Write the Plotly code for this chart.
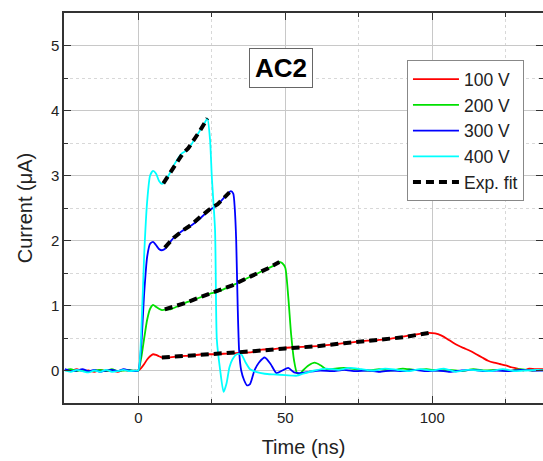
import plotly.graph_objects as go

# ---------------- data ----------------
t_pre = [-25, -23, -21, -19, -17, -15, -13, -11, -9, -7, -5, -3, -1]

# 100 V
t_100 = t_pre + [0, 1, 2, 3, 4, 5, 6, 7, 8,
                 10, 14, 18, 22, 26, 30, 34, 38, 42, 46, 50, 54, 58, 62, 66, 70, 74, 78, 82, 86, 90, 94,
                 97, 99,
                 101, 103, 105, 107, 109, 111, 113, 115, 117, 119, 121, 123, 125, 127, 129, 131, 133, 135,
                 138]
i_100 = [0.01, -0.01, 0.02, -0.01, 0.0, -0.02, 0.01, -0.01, 0.0, -0.02, 0.01, -0.01, 0.0] + \
        [0.0, 0.04, 0.1, 0.17, 0.22, 0.25, 0.24, 0.22, 0.2,
         0.2, 0.22, 0.23, 0.25, 0.25, 0.26, 0.27, 0.28, 0.32, 0.33, 0.35, 0.36, 0.37, 0.38, 0.40, 0.42, 0.44, 0.46, 0.47, 0.49, 0.52, 0.55,
         0.57, 0.58,
         0.57, 0.54, 0.49, 0.43, 0.38, 0.34, 0.30, 0.25, 0.20, 0.15, 0.12, 0.10, 0.08, 0.05, 0.03, 0.0, 0.03, 0.02,
         0.02]

# 200 V
t_200 = t_pre + [0, 1, 2, 3, 4, 5, 6, 7, 8,
                 10, 11, 13, 16, 19, 22, 25, 28, 31, 34, 37, 40, 43, 46, 48, 49,
                 50, 51, 52, 53, 54, 55, 56,
                 58, 60, 62, 64, 67, 70, 74, 78, 82, 86, 90, 94, 98, 102, 106, 110, 114, 118, 122, 126, 130, 134, 138]
i_200 = [0.0, 0.02, -0.01, 0.01, -0.02, 0.0, 0.01, -0.01, 0.02, -0.01, 0.0, 0.01, -0.01] + \
        [0.0, 0.2, 0.5, 0.78, 0.95, 1.01, 0.98, 0.95, 0.93,
         0.94, 0.94, 0.98, 1.04, 1.09, 1.14, 1.19, 1.23, 1.29, 1.35, 1.42, 1.48, 1.55, 1.61, 1.67, 1.65,
         1.58, 1.14, 0.55, 0.15, -0.04, -0.05, 0.0,
         0.08, 0.12, 0.08, 0.02, 0.03, 0.04, 0.02, 0.0, 0.02, 0.0, 0.03, 0.01, 0.02, 0.0, 0.01, -0.01, 0.02, 0.0, 0.01, -0.01, 0.02, 0.0, 0.01]

# 300 V
t_300 = t_pre + [0, 1, 2, 3, 4, 5, 6, 7, 8, 9, 10,
                 12, 15, 18, 20, 22, 24, 26, 28, 30,
                 31.5, 32.3, 32.8, 33.3, 33.8, 34.3, 35,
                 36, 37, 38, 39.5, 41, 43, 45, 47, 49, 51, 53, 55, 58,
                 62, 66, 70, 74, 78, 82, 86, 90, 94, 98, 102, 106, 110, 114, 118, 122, 126, 130, 134, 138]
i_300 = [0.02, -0.01, 0.0, 0.02, -0.01, 0.01, -0.02, 0.0, 0.01, -0.01, 0.02, 0.0, -0.01] + \
        [0.0, 0.4, 1.2, 1.75, 1.95, 1.98, 1.93, 1.87, 1.85, 1.87, 1.93,
         2.04, 2.15, 2.23, 2.3, 2.38, 2.46, 2.52, 2.6, 2.7,
         2.76, 2.72, 2.5, 2.0, 1.0, 0.3, 0.0,
         -0.15, -0.23, -0.21, 0.0, 0.12, 0.2, 0.1, -0.04, 0.0, 0.04, -0.03, -0.04, -0.02,
         0.0, -0.01, 0.01, -0.01, 0.0, -0.02, 0.0, -0.01, 0.01, -0.01, 0.0, -0.02, 0.0, 0.01, -0.01, 0.0, -0.01, 0.01, 0.0, 0.0]

# 400 V
t_400 = t_pre + [0, 1, 2, 3, 4, 5, 6, 7, 8, 9,
                 11, 12.5, 14.8, 16.5, 18.2, 20.4, 22.7, 23.5,
                 24.4, 25, 26.1, 26.7, 27.8, 29, 30, 31, 32, 33.5, 35, 36.3, 38, 40, 43, 46, 50, 54, 56, 60,
                 64, 68, 72, 76, 80, 84, 88, 92, 96, 100, 104, 108, 112, 116, 120, 124, 128, 132, 136, 138]
i_400 = [0.0, -0.02, 0.01, -0.01, -0.03, 0.0, -0.02, 0.01, -0.02, -0.01, 0.01, -0.01, 0.0] + \
        [0.0, 0.6, 1.8, 2.6, 3.0, 3.07, 3.03, 2.92, 2.87, 2.9,
         3.06, 3.19, 3.34, 3.39, 3.49, 3.65, 3.82, 3.88,
         3.55, 2.98, 2.16, 0.48, 0.02, -0.33, -0.2, 0.05, 0.17, 0.25, 0.25, 0.14, 0.02, -0.02, -0.05, -0.06, -0.07, -0.08, -0.05, 0.0,
         0.03, 0.01, 0.04, 0.02, 0.0, 0.03, 0.01, -0.01, 0.02, 0.0, 0.03, -0.02, 0.01, 0.0, -0.01, 0.02, -0.01, 0.0, 0.01, 0.0]

# exponential fits
fit400_t = [8.5, 11, 13, 15, 17, 19, 21, 23.5]
fit400_i = [2.88, 3.06, 3.2, 3.33, 3.42, 3.55, 3.69, 3.88]
fit300_t = [9, 12, 15, 18, 21, 24, 27, 29, 31]
fit300_i = [1.89, 2.04, 2.15, 2.24, 2.36, 2.47, 2.56, 2.64, 2.74]
fit200_t = [9, 12, 16, 20, 24, 28, 32, 36, 40, 44, 48]
fit200_i = [0.94, 0.98, 1.04, 1.11, 1.18, 1.24, 1.31, 1.40, 1.48, 1.57, 1.67]
fit100_t = [8, 15, 22, 30, 40, 50, 60, 70, 80, 90, 99]
fit100_i = [0.2, 0.22, 0.24, 0.26, 0.30, 0.34, 0.37, 0.42, 0.46, 0.51, 0.58]

series_names = ["100 V", "200 V", "300 V", "400 V"]
series_colors = ["#ff0000", "#00e000", "#0000ff", "#00ffff"]

# ---------------- figure ----------------
fig = go.Figure()
for name, color, t, i in zip(series_names, series_colors,
                             [t_100, t_200, t_300, t_400],
                             [i_100, i_200, i_300, i_400]):
    fig.add_trace(go.Scatter(x=t, y=i, mode="lines", name=name,
                             line=dict(color=color, width=1.8, shape="spline", smoothing=0.6)))

fit_t, fit_i = [], []
for ft, fi in [(fit400_t, fit400_i), (fit300_t, fit300_i), (fit200_t, fit200_i), (fit100_t, fit100_i)]:
    fit_t += ft + [None]
    fit_i += fi + [None]
fig.add_trace(go.Scatter(x=fit_t, y=fit_i, mode="lines", name="Exp. fit",
                         connectgaps=False,
                         line=dict(color="black", width=4, dash="8px,5px")))

font_family = "Liberation Sans, Arial, sans-serif"
axis_common = dict(
    showline=True, linecolor="#333", linewidth=1.5, mirror="ticks",
    ticks="inside", ticklen=7, tickwidth=1.3, tickcolor="#333",
    showgrid=True, gridcolor="#c8c8c8", gridwidth=1.2, zeroline=False,
    tickfont=dict(size=15, color="#222", family=font_family),
)

fig.update_xaxes(range=[-25.3, 137.7], tick0=0, dtick=50,
                 minor=dict(tick0=0, dtick=25, ticks="inside", ticklen=4, tickcolor="#333",
                            showgrid=True, gridcolor="#d8d8d8", griddash="dot", gridwidth=1),
                 title=dict(text="Time (ns)", font=dict(size=20, color="#222", family=font_family), standoff=15),
                 **axis_common)
fig.update_yaxes(range=[-0.5, 5.5], tick0=0, dtick=1,
                 minor=dict(tick0=0, dtick=0.5, ticks="inside", ticklen=4, tickcolor="#333",
                            showgrid=True, gridcolor="#d8d8d8", griddash="dot", gridwidth=1),
                 title=dict(text="Current (μA)", font=dict(size=20, color="#222", family=font_family), standoff=13),
                 **axis_common)

fig.add_annotation(x=48.4, y=4.66, xref="x", yref="y", text="<b>AC2</b>", showarrow=False,
                   font=dict(size=26, color="black", family=font_family),
                   bordercolor="#666", borderwidth=1, borderpad=2, bgcolor="white",
                   width=58, height=34)

fig.update_layout(
    width=543, height=461,
    margin=dict(l=64, r=0, t=13, b=58, autoexpand=False),
    plot_bgcolor="white", paper_bgcolor="white",
    font=dict(family=font_family, color="#222"),
    legend=dict(x=0.716, y=0.879, xanchor="left", yanchor="top",
                bordercolor="#888", borderwidth=1, bgcolor="white",
                font=dict(size=17.5, color="#222", family=font_family),
                itemwidth=46, tracegroupgap=0),
)

fig.write_html("out.html", config={"displayModeBar": False},
               post_script="document.body.style.margin='0px';document.body.style.overflow='hidden';")
